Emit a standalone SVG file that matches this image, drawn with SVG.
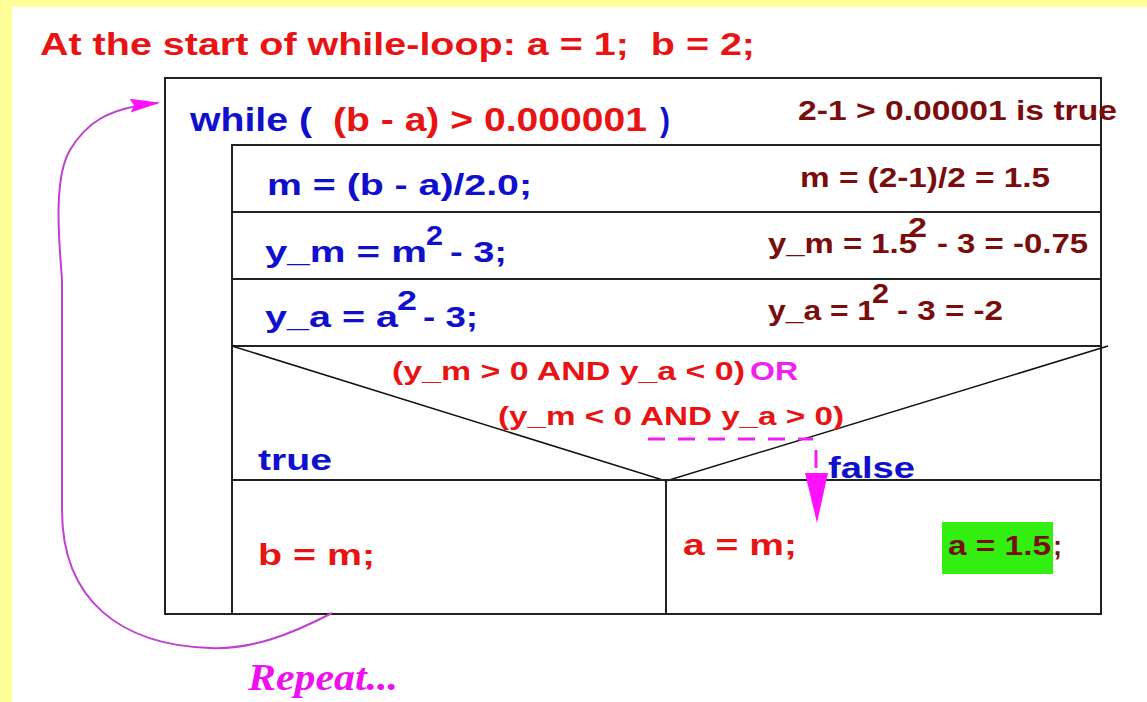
<svg xmlns="http://www.w3.org/2000/svg" width="1147" height="702" viewBox="0 0 1147 702">
<style>
  text { font-family: "Liberation Sans", Arial, sans-serif; font-weight: bold; }
  text.serif { font-family: "Liberation Serif", "Times New Roman", serif; font-style: italic; font-weight: bold; }
  .red { fill: #e81414; }
  .blue { fill: #1010cc; }
  .dred { fill: #7a0c0c; }
  .mag { fill: #f020f0; }
  .box { fill: none; stroke: #222; stroke-width: 2; }
  .diag { fill: none; stroke: #111; stroke-width: 1.5; }
  .t32 { font-size: 32px; }
  .t30 { font-size: 30px; }
  .t28 { font-size: 28px; }
  .t26 { font-size: 25px; }
</style>
<defs>
  <marker id="loopHead" markerWidth="30" markerHeight="14" refX="28" refY="7" orient="auto" markerUnits="userSpaceOnUse">
    <path d="M0,0 L30,7 L0,14 L4,7 Z" fill="#ff10ff"/>
  </marker>
</defs>
<rect x="0" y="0" width="1147" height="702" fill="#ffff99"/>
<rect x="12" y="7" width="1135" height="695" fill="#ffffff"/>

<g id="title">
  <text class="red t32" x="40" y="55" xml:space="preserve" textLength="715" lengthAdjust="spacingAndGlyphs">At the start of while-loop: a = 1;  b = 2;</text>
</g>

<g id="while-node">
  <rect class="box" x="165" y="78" width="936" height="536"/>
  <text class="blue" x="190" y="131" font-size="33" textLength="122" lengthAdjust="spacingAndGlyphs">while (</text>
  <text class="red" x="333" y="131" font-size="33" textLength="314" lengthAdjust="spacingAndGlyphs">(b - a) &gt; 0.000001</text>
  <text class="blue" x="660" y="131" font-size="33" textLength="10" lengthAdjust="spacingAndGlyphs">)</text>
  <text class="dred t28" x="798" y="120" textLength="319" lengthAdjust="spacingAndGlyphs">2-1 &gt; 0.00001 is true</text>
</g>

<g id="row-m">
  <rect class="box" x="232" y="145" width="869" height="67"/>
  <text class="blue t30" x="267" y="195" textLength="265" lengthAdjust="spacingAndGlyphs">m = (b - a)/2.0;</text>
  <text class="dred t28" x="800" y="187" textLength="250" lengthAdjust="spacingAndGlyphs">m = (2-1)/2 = 1.5</text>
</g>

<g id="row-ym">
  <rect class="box" x="232" y="212" width="869" height="67"/>
  <text class="blue t30" x="265" y="262" textLength="162" lengthAdjust="spacingAndGlyphs">y_m = m</text>
  <text class="blue t28" x="426" y="245" textLength="17" lengthAdjust="spacingAndGlyphs">2</text>
  <text class="blue t30" x="450" y="262" textLength="57" lengthAdjust="spacingAndGlyphs">- 3;</text>
  <text class="dred t28" x="768" y="253" textLength="149" lengthAdjust="spacingAndGlyphs">y_m = 1.5</text>
  <text class="dred t28" x="908" y="237" textLength="19" lengthAdjust="spacingAndGlyphs">2</text>
  <text class="dred t28" x="937" y="253" textLength="151" lengthAdjust="spacingAndGlyphs">- 3 = -0.75</text>
</g>

<g id="row-ya">
  <rect class="box" x="232" y="279" width="869" height="67"/>
  <text class="blue t30" x="265" y="327" textLength="133" lengthAdjust="spacingAndGlyphs">y_a = a</text>
  <text class="blue t28" x="397" y="310" textLength="20" lengthAdjust="spacingAndGlyphs">2</text>
  <text class="blue t30" x="423" y="327" textLength="55" lengthAdjust="spacingAndGlyphs">- 3;</text>
  <text class="dred t28" x="768" y="320" textLength="107" lengthAdjust="spacingAndGlyphs">y_a = 1</text>
  <text class="dred t28" x="872" y="303" textLength="17" lengthAdjust="spacingAndGlyphs">2</text>
  <text class="dred t28" x="897" y="320" textLength="106" lengthAdjust="spacingAndGlyphs">- 3 = -2</text>
</g>

<g id="decision">
  <rect class="box" x="232" y="346" width="869" height="134"/>
  <path class="diag" d="M232,346 L666,481 L1108,346"/>
  <text class="red t26" x="392" y="380" textLength="353" lengthAdjust="spacingAndGlyphs">(y_m &gt; 0 AND y_a &lt; 0)</text>
  <text class="mag t26" x="750" y="380" textLength="48" lengthAdjust="spacingAndGlyphs">OR</text>
  <text class="red t26" x="498" y="425" textLength="346" lengthAdjust="spacingAndGlyphs">(y_m &lt; 0 AND y_a &gt; 0)</text>
  <text class="blue t30" x="258" y="470" textLength="74" lengthAdjust="spacingAndGlyphs">true</text>
  <text class="blue t30" x="828" y="478" textLength="87" lengthAdjust="spacingAndGlyphs">false</text>
</g>

<g id="branch-true">
  <rect class="box" x="232" y="480" width="434" height="134"/>
  <text class="red t30" x="258" y="565" textLength="117" lengthAdjust="spacingAndGlyphs">b = m;</text>
</g>

<g id="branch-false">
  <rect class="box" x="666" y="480" width="435" height="134"/>
  <text class="red t30" x="683" y="555" textLength="114" lengthAdjust="spacingAndGlyphs">a = m;</text>
  <rect x="942" y="522" width="111" height="52" fill="#33ee11"/>
  <text class="dred t28" x="948" y="555" textLength="103" lengthAdjust="spacingAndGlyphs">a = 1.5</text>
  <text class="dred t28" x="1053" y="555" textLength="9" lengthAdjust="spacingAndGlyphs">;</text>
</g>

<g id="connectors">
  <path d="M332,613 C290,635 250,650 210,648 C120,645 62,600 62,510 L62,280 C60,250 52,180 70,150 C85,125 105,108 158,103" fill="none" stroke="#c040d0" stroke-width="2" marker-end="url(#loopHead)"/>
  <path d="M648,439 L813,439" fill="none" stroke="#ee22ee" stroke-width="3" stroke-dasharray="17 13"/>
  <path d="M816,450 L816,468" fill="none" stroke="#ee22ee" stroke-width="3"/>
  <polygon points="805,473 828,473 817,523" fill="#ff10ff"/>
</g>

<g id="repeat-label">
  <text class="serif" x="248" y="690" font-size="38" fill="#ee10ee" textLength="150" lengthAdjust="spacingAndGlyphs">Repeat...</text>
</g>
</svg>
